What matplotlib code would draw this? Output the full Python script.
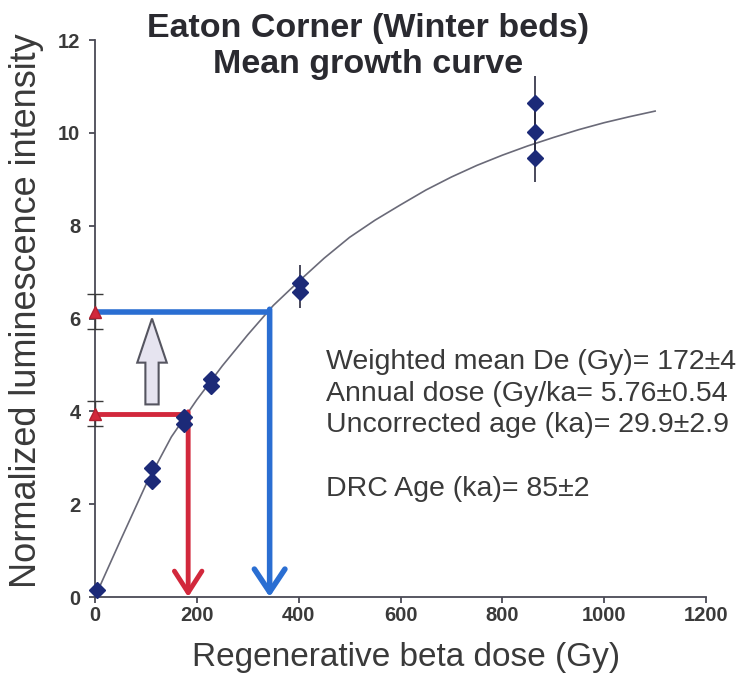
#!/usr/bin/env python3

# Mean growth curve for Eaton Corner (Winter beds)

import numpy as np
import matplotlib.pyplot as plt
from matplotlib.patches import FancyArrow

plt.rcParams['font.family'] = ['Liberation Sans', 'DejaVu Sans']

# Regenerated points (dose Gy, normalized intensity, error)
dose = [3, 112, 112, 175, 175, 228, 228, 403, 403, 864, 864, 864]
lum = [0.15, 2.78, 2.50, 3.88, 3.73, 4.70, 4.55, 6.77, 6.58, 10.65, 10.02, 9.46]
lum_err = [0.0, 0.0, 0.0, 0.0, 0.0, 0.0, 0.0, 0.38, 0.35, 0.58, 0.5, 0.52]

# Fitted growth curve
curve_x = [0, 50, 100, 150, 200, 250, 300, 350, 400, 450, 500, 550,
           600, 650, 700, 750, 800, 850, 900, 950, 1000, 1050, 1100]
curve_y = [0, 1.22, 2.42, 3.45, 4.25, 4.98, 5.65, 6.28, 6.8, 7.3, 7.75, 8.12,
           8.45, 8.77, 9.05, 9.3, 9.52, 9.72, 9.9, 10.07, 10.22, 10.35, 10.47]

# Natural (red) and DRC-corrected (blue) signal levels
nat_y, nat_err, nat_de = 3.95, 0.27, 183
drc_y, drc_err, drc_de = 6.15, 0.37, 343

red = '#d2283c'
blue = '#2a6ed2'
navy = '#1c2a78'
grey = '#3a3a3a'

fig = plt.figure(figsize=(7.38, 6.91), dpi=100)
ax = fig.add_axes([0.1287, 0.136, 0.828, 0.806])

# curve and data
ax.plot(curve_x, curve_y, color='#6a6a78', lw=1.2, zorder=2)
ax.errorbar(dose, lum, yerr=lum_err, fmt='D', ms=8, color=navy, mfc=navy,
            mec=navy, ecolor='#2a2a40', elinewidth=1.2, capsize=0,
            clip_on=False, zorder=4)

# natural signal -> De
ax.plot([0, nat_de], [nat_y, nat_y], color=red, lw=3.5, solid_capstyle='butt', zorder=3)
ax.annotate('', xy=(nat_de, 0), xytext=(nat_de, nat_y + 0.04),
            arrowprops=dict(arrowstyle='->, head_length=0.7, head_width=0.45',
                            color=red, lw=3.5, mutation_scale=22,
                            shrinkA=0, shrinkB=0), zorder=3)
ax.plot([0, drc_de], [drc_y, drc_y], color=blue, lw=4, solid_capstyle='butt', zorder=3)
ax.annotate('', xy=(drc_de, 0), xytext=(drc_de, drc_y + 0.05),
            arrowprops=dict(arrowstyle='->, head_length=0.75, head_width=0.5',
                            color=blue, lw=4, mutation_scale=22,
                            shrinkA=0, shrinkB=0), zorder=3)

ax.errorbar([0, 0], [nat_y, drc_y], yerr=[nat_err, drc_err], fmt='^', ms=8,
            color=red, mec='#b02030', ecolor=grey, elinewidth=1, capsize=6,
            clip_on=False, zorder=5)

# grey hollow arrow
ax.add_patch(FancyArrow(112, 4.15, 0, 1.85, width=26, head_width=58,
                        head_length=0.95, length_includes_head=True,
                        fc='#e6e4f0', ec='#555560', lw=1.5, zorder=3))

ax.set_xlim(0, 1200)
ax.set_ylim(0, 12)
ax.set_xticks(range(0, 1201, 200))
ax.set_yticks(range(0, 13, 2))
for s in ['top', 'right']:
    ax.spines[s].set_visible(False)
for s in ['left', 'bottom']:
    ax.spines[s].set_color('#4a4a55')
    ax.spines[s].set_linewidth(1.3)
ax.tick_params(direction='out', length=4, width=1.3, color='#4a4a55',
               labelsize=14.5, labelcolor=grey)
ax.tick_params(axis='x', pad=2.5)
ax.tick_params(axis='y', pad=6.5)
for lab in ax.get_xticklabels() + ax.get_yticklabels():
    lab.set_fontweight('bold')

ax.set_xlabel('Regenerative beta dose (Gy)', fontsize=24, color=grey,
              labelpad=12, x=0.509)
ax.set_ylabel('Normalized luminescence intensity', fontsize=26, color=grey,
              labelpad=10, y=0.515)

fig.text(0.4986, 0.933, 'Eaton Corner (Winter beds)\nMean growth curve',
         ha='center', va='center', fontsize=24.5, fontweight='bold', color='#2a2a30',
         linespacing=1.2)

ax.text(0.378, 0.296, 'Weighted mean De (Gy)= 172\u00b14\n'
        'Annual dose (Gy/ka= 5.76\u00b10.54\n'
        'Uncorrected age (ka)= 29.9\u00b12.9',
        transform=ax.transAxes, ha='left', va='baseline', fontsize=20.5,
        color=grey, linespacing=1.28)
ax.text(0.378, 0.181, 'DRC Age (ka)= 85\u00b12',
        transform=ax.transAxes, ha='left', va='baseline', fontsize=20.5,
        color=grey)

fig.savefig('out.png', dpi=100)
